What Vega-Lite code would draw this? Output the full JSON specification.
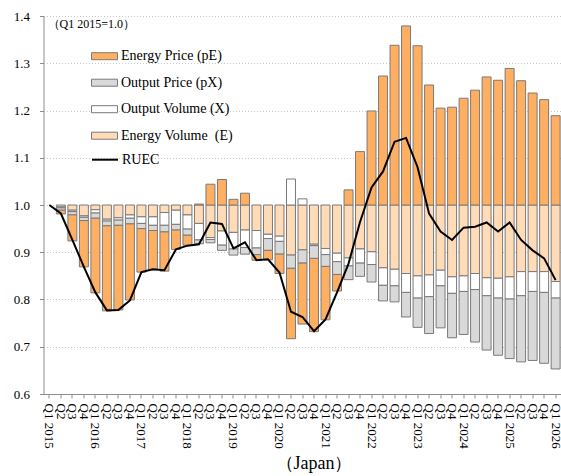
{
  "$schema": "https://vega.github.io/schema/vega-lite/v6.json",
  "width": 518,
  "height": 378,
  "autosize": {"type": "none"},
  "padding": {"left": 43.5, "top": 16, "right": 0, "bottom": 82},
  "background": "white",
  "config": {
    "font": "Liberation Serif",
    "view": {"stroke": null},
    "axis": {"labelFont": "Liberation Serif", "labelColor": "#000000", "titleFont": "Liberation Serif", "titleColor": "#000000", "titleFontWeight": "normal"},
    "legend": {"labelFont": "Liberation Serif", "labelColor": "#000000"}
  },
  "datasets": {
    "bars": [
      {"q":"Q2 2015","c":"4E","v":-0.004},{"q":"Q2 2015","c":"3X","v":-0.002},{"q":"Q2 2015","c":"2pX","v":-0.005},{"q":"Q2 2015","c":"1pE","v":-0.008},
      {"q":"Q3 2015","c":"4E","v":-0.011},{"q":"Q3 2015","c":"3X","v":-0.003},{"q":"Q3 2015","c":"2pX","v":-0.007},{"q":"Q3 2015","c":"1pE","v":-0.055},
      {"q":"Q4 2015","c":"4E","v":-0.023},{"q":"Q4 2015","c":"3X","v":-0.003},{"q":"Q4 2015","c":"2pX","v":-0.007},{"q":"Q4 2015","c":"1pE","v":-0.098},
      {"q":"Q1 2016","c":"4E","v":-0.010},{"q":"Q1 2016","c":"3X","v":-0.007},{"q":"Q1 2016","c":"2pX","v":-0.011},{"q":"Q1 2016","c":"1pE","v":-0.158},
      {"q":"Q2 2016","c":"4E","v":-0.030},{"q":"Q2 2016","c":"3X","v":-0.004},{"q":"Q2 2016","c":"2pX","v":-0.010},{"q":"Q2 2016","c":"1pE","v":-0.180},
      {"q":"Q3 2016","c":"4E","v":-0.027},{"q":"Q3 2016","c":"3X","v":-0.005},{"q":"Q3 2016","c":"2pX","v":-0.011},{"q":"Q3 2016","c":"1pE","v":-0.179},
      {"q":"Q4 2016","c":"4E","v":-0.021},{"q":"Q4 2016","c":"3X","v":-0.007},{"q":"Q4 2016","c":"2pX","v":-0.012},{"q":"Q4 2016","c":"1pE","v":-0.161},
      {"q":"Q1 2017","c":"4E","v":-0.025},{"q":"Q1 2017","c":"3X","v":-0.014},{"q":"Q1 2017","c":"2pX","v":-0.011},{"q":"Q1 2017","c":"1pE","v":-0.092},
      {"q":"Q2 2017","c":"4E","v":-0.025},{"q":"Q2 2017","c":"3X","v":-0.018},{"q":"Q2 2017","c":"2pX","v":-0.011},{"q":"Q2 2017","c":"1pE","v":-0.083},
      {"q":"Q3 2017","c":"4E","v":-0.016},{"q":"Q3 2017","c":"3X","v":-0.027},{"q":"Q3 2017","c":"2pX","v":-0.014},{"q":"Q3 2017","c":"1pE","v":-0.083},
      {"q":"Q4 2017","c":"4E","v":-0.011},{"q":"Q4 2017","c":"3X","v":-0.030},{"q":"Q4 2017","c":"2pX","v":-0.012},{"q":"Q4 2017","c":"1pE","v":-0.041},
      {"q":"Q1 2018","c":"4E","v":-0.021},{"q":"Q1 2018","c":"3X","v":-0.030},{"q":"Q1 2018","c":"2pX","v":-0.013},{"q":"Q1 2018","c":"1pE","v":-0.021},
      {"q":"Q2 2018","c":"4E","v":-0.039},{"q":"Q2 2018","c":"3X","v":-0.035},{"q":"Q2 2018","c":"2pX","v":-0.008},{"q":"Q2 2018","c":"1pE","v":0.002},
      {"q":"Q3 2018","c":"4E","v":-0.069},{"q":"Q3 2018","c":"3X","v":-0.004},{"q":"Q3 2018","c":"2pX","v":-0.007},{"q":"Q3 2018","c":"1pE","v":0.044},
      {"q":"Q4 2018","c":"4E","v":-0.055},{"q":"Q4 2018","c":"3X","v":-0.030},{"q":"Q4 2018","c":"2pX","v":-0.011},{"q":"Q4 2018","c":"1pE","v":0.054},
      {"q":"Q1 2019","c":"4E","v":-0.058},{"q":"Q1 2019","c":"3X","v":-0.035},{"q":"Q1 2019","c":"2pX","v":-0.013},{"q":"Q1 2019","c":"1pE","v":0.012},
      {"q":"Q2 2019","c":"4E","v":-0.053},{"q":"Q2 2019","c":"3X","v":-0.037},{"q":"Q2 2019","c":"2pX","v":-0.014},{"q":"Q2 2019","c":"1pE","v":0.025},
      {"q":"Q3 2019","c":"4E","v":-0.054},{"q":"Q3 2019","c":"3X","v":-0.037},{"q":"Q3 2019","c":"2pX","v":-0.014},{"q":"Q3 2019","c":"1pE","v":-0.012},
      {"q":"Q4 2019","c":"4E","v":-0.062},{"q":"Q4 2019","c":"3X","v":-0.009},{"q":"Q4 2019","c":"2pX","v":-0.025},{"q":"Q4 2019","c":"1pE","v":-0.020},
      {"q":"Q1 2020","c":"4E","v":-0.066},{"q":"Q1 2020","c":"3X","v":-0.011},{"q":"Q1 2020","c":"2pX","v":-0.027},{"q":"Q1 2020","c":"1pE","v":-0.041},
      {"q":"Q2 2020","c":"4E","v":-0.106},{"q":"Q2 2020","c":"3X","v":0.055},{"q":"Q2 2020","c":"2pX","v":-0.028},{"q":"Q2 2020","c":"1pE","v":-0.149},
      {"q":"Q3 2020","c":"4E","v":-0.095},{"q":"Q3 2020","c":"3X","v":0.013},{"q":"Q3 2020","c":"2pX","v":-0.028},{"q":"Q3 2020","c":"1pE","v":-0.129},
      {"q":"Q4 2020","c":"4E","v":-0.083},{"q":"Q4 2020","c":"3X","v":-0.003},{"q":"Q4 2020","c":"2pX","v":-0.027},{"q":"Q4 2020","c":"1pE","v":-0.155},
      {"q":"Q1 2021","c":"4E","v":-0.092},{"q":"Q1 2021","c":"3X","v":-0.013},{"q":"Q1 2021","c":"2pX","v":-0.025},{"q":"Q1 2021","c":"1pE","v":-0.113},
      {"q":"Q2 2021","c":"4E","v":-0.102},{"q":"Q2 2021","c":"3X","v":-0.018},{"q":"Q2 2021","c":"2pX","v":-0.027},{"q":"Q2 2021","c":"1pE","v":-0.035},
      {"q":"Q3 2021","c":"4E","v":-0.112},{"q":"Q3 2021","c":"3X","v":-0.017},{"q":"Q3 2021","c":"2pX","v":-0.029},{"q":"Q3 2021","c":"1pE","v":0.032},
      {"q":"Q4 2021","c":"4E","v":-0.093},{"q":"Q4 2021","c":"3X","v":-0.030},{"q":"Q4 2021","c":"2pX","v":-0.028},{"q":"Q4 2021","c":"1pE","v":0.113},
      {"q":"Q1 2022","c":"4E","v":-0.099},{"q":"Q1 2022","c":"3X","v":-0.027},{"q":"Q1 2022","c":"2pX","v":-0.037},{"q":"Q1 2022","c":"1pE","v":0.199},
      {"q":"Q2 2022","c":"4E","v":-0.133},{"q":"Q2 2022","c":"3X","v":-0.037},{"q":"Q2 2022","c":"2pX","v":-0.033},{"q":"Q2 2022","c":"1pE","v":0.273},
      {"q":"Q3 2022","c":"4E","v":-0.136},{"q":"Q3 2022","c":"3X","v":-0.035},{"q":"Q3 2022","c":"2pX","v":-0.034},{"q":"Q3 2022","c":"1pE","v":0.338},
      {"q":"Q4 2022","c":"4E","v":-0.145},{"q":"Q4 2022","c":"3X","v":-0.040},{"q":"Q4 2022","c":"2pX","v":-0.052},{"q":"Q4 2022","c":"1pE","v":0.379},
      {"q":"Q1 2023","c":"4E","v":-0.150},{"q":"Q1 2023","c":"3X","v":-0.047},{"q":"Q1 2023","c":"2pX","v":-0.062},{"q":"Q1 2023","c":"1pE","v":0.337},
      {"q":"Q2 2023","c":"4E","v":-0.148},{"q":"Q2 2023","c":"3X","v":-0.046},{"q":"Q2 2023","c":"2pX","v":-0.078},{"q":"Q2 2023","c":"1pE","v":0.254},
      {"q":"Q3 2023","c":"4E","v":-0.138},{"q":"Q3 2023","c":"3X","v":-0.033},{"q":"Q3 2023","c":"2pX","v":-0.089},{"q":"Q3 2023","c":"1pE","v":0.205},
      {"q":"Q4 2023","c":"4E","v":-0.152},{"q":"Q4 2023","c":"3X","v":-0.035},{"q":"Q4 2023","c":"2pX","v":-0.094},{"q":"Q4 2023","c":"1pE","v":0.207},
      {"q":"Q1 2024","c":"4E","v":-0.150},{"q":"Q1 2024","c":"3X","v":-0.033},{"q":"Q1 2024","c":"2pX","v":-0.091},{"q":"Q1 2024","c":"1pE","v":0.226},
      {"q":"Q2 2024","c":"4E","v":-0.145},{"q":"Q2 2024","c":"3X","v":-0.034},{"q":"Q2 2024","c":"2pX","v":-0.111},{"q":"Q2 2024","c":"1pE","v":0.243},
      {"q":"Q3 2024","c":"4E","v":-0.154},{"q":"Q3 2024","c":"3X","v":-0.038},{"q":"Q3 2024","c":"2pX","v":-0.115},{"q":"Q3 2024","c":"1pE","v":0.271},
      {"q":"Q4 2024","c":"4E","v":-0.155},{"q":"Q4 2024","c":"3X","v":-0.042},{"q":"Q4 2024","c":"2pX","v":-0.121},{"q":"Q4 2024","c":"1pE","v":0.264},
      {"q":"Q1 2025","c":"4E","v":-0.152},{"q":"Q1 2025","c":"3X","v":-0.047},{"q":"Q1 2025","c":"2pX","v":-0.126},{"q":"Q1 2025","c":"1pE","v":0.289},
      {"q":"Q2 2025","c":"4E","v":-0.141},{"q":"Q2 2025","c":"3X","v":-0.051},{"q":"Q2 2025","c":"2pX","v":-0.140},{"q":"Q2 2025","c":"1pE","v":0.263},
      {"q":"Q3 2025","c":"4E","v":-0.141},{"q":"Q3 2025","c":"3X","v":-0.042},{"q":"Q3 2025","c":"2pX","v":-0.146},{"q":"Q3 2025","c":"1pE","v":0.237},
      {"q":"Q4 2025","c":"4E","v":-0.141},{"q":"Q4 2025","c":"3X","v":-0.044},{"q":"Q4 2025","c":"2pX","v":-0.150},{"q":"Q4 2025","c":"1pE","v":0.223},
      {"q":"Q1 2026","c":"4E","v":-0.162},{"q":"Q1 2026","c":"3X","v":-0.035},{"q":"Q1 2026","c":"2pX","v":-0.150},{"q":"Q1 2026","c":"1pE","v":0.189}
    ],
    "ruec": [
      {"q":"Q1 2015","v":1.000},{"q":"Q2 2015","v":0.982},{"q":"Q3 2015","v":0.926},{"q":"Q4 2015","v":0.869},
      {"q":"Q1 2016","v":0.815},{"q":"Q2 2016","v":0.777},{"q":"Q3 2016","v":0.778},{"q":"Q4 2016","v":0.798},
      {"q":"Q1 2017","v":0.858},{"q":"Q2 2017","v":0.864},{"q":"Q3 2017","v":0.862},{"q":"Q4 2017","v":0.906},
      {"q":"Q1 2018","v":0.914},{"q":"Q2 2018","v":0.917},{"q":"Q3 2018","v":0.963},{"q":"Q4 2018","v":0.960},
      {"q":"Q1 2019","v":0.908},{"q":"Q2 2019","v":0.921},{"q":"Q3 2019","v":0.883},{"q":"Q4 2019","v":0.885},
      {"q":"Q1 2020","v":0.857},{"q":"Q2 2020","v":0.774},{"q":"Q3 2020","v":0.763},{"q":"Q4 2020","v":0.733},
      {"q":"Q1 2021","v":0.758},{"q":"Q2 2021","v":0.815},{"q":"Q3 2021","v":0.876},{"q":"Q4 2021","v":0.964},
      {"q":"Q1 2022","v":1.037},{"q":"Q2 2022","v":1.071},{"q":"Q3 2022","v":1.134},{"q":"Q4 2022","v":1.142},
      {"q":"Q1 2023","v":1.080},{"q":"Q2 2023","v":0.982},{"q":"Q3 2023","v":0.944},{"q":"Q4 2023","v":0.926},
      {"q":"Q1 2024","v":0.952},{"q":"Q2 2024","v":0.954},{"q":"Q3 2024","v":0.963},{"q":"Q4 2024","v":0.944},
      {"q":"Q1 2025","v":0.963},{"q":"Q2 2025","v":0.926},{"q":"Q3 2025","v":0.904},{"q":"Q4 2025","v":0.887},
      {"q":"Q1 2026","v":0.841}
    ]
  },
  "encoding": {
    "x": {
      "field": "q",
      "type": "nominal",
      "sort": ["Q1 2015","Q2 2015","Q3 2015","Q4 2015","Q1 2016","Q2 2016","Q3 2016","Q4 2016","Q1 2017","Q2 2017","Q3 2017","Q4 2017","Q1 2018","Q2 2018","Q3 2018","Q4 2018","Q1 2019","Q2 2019","Q3 2019","Q4 2019","Q1 2020","Q2 2020","Q3 2020","Q4 2020","Q1 2021","Q2 2021","Q3 2021","Q4 2021","Q1 2022","Q2 2022","Q3 2022","Q4 2022","Q1 2023","Q2 2023","Q3 2023","Q4 2023","Q1 2024","Q2 2024","Q3 2024","Q4 2024","Q1 2025","Q2 2025","Q3 2025","Q4 2025","Q1 2026"],
      "scale": {"paddingInner": 0.22, "paddingOuter": 0.12},
      "axis": {
        "title": "（Japan）",
        "titleFontSize": 18,
        "titlePadding": 6,
        "titleX": 270,
        "titleAlign": "center",
        "labelFont": "Liberation Serif",
        "labelExpr": "slice(datum.value, 0, 2) == 'Q1' ? datum.value : slice(datum.value, 0, 2)",
        "labelAngle": 90,
        "labelAlign": "left",
        "labelBaseline": "middle",
        "labelFontSize": 13,
        "labelPadding": 5,
        "labelOverlap": false,
        "tickSize": 4,
        "tickColor": "#8c8c8c",
        "domainColor": "#8c8c8c",
        "grid": false
      }
    }
  },
  "layer": [
    {
      "data": {"name": "bars"},
      "mark": {"type": "bar", "stroke": "#7a7a7a", "strokeWidth": 1},
      "encoding": {
        "y": {
          "field": "v",
          "type": "quantitative",
          "scale": {"domain": [-0.4, 0.4], "nice": false},
          "axis": null
        },
        "color": {
          "field": "c",
          "type": "nominal",
          "scale": {"domain": ["1pE", "2pX", "3X", "4E"], "range": ["#FFAF61", "#D9D9D9", "#FFFFFF", "#FFDBB7"]},
          "legend": {
            "orient": "none",
            "legendX": 47.5,
            "legendY": 26.7,
            "title": null,
            "padding": 0,
            "rowPadding": 5.5,
            "symbolType": "M-1,-0.27H1V0.27H-1Z",
            "symbolSize": 676,
            "symbolStrokeColor": "#7a7a7a",
            "symbolStrokeWidth": 1,
            "symbolOpacity": 1,
            "labelFontSize": 14,
            "labelOffset": 3,
            "labelExpr": "datum.label == '1pE' ? 'Energy Price (pE)' : datum.label == '2pX' ? 'Output Price (pX)' : datum.label == '3X' ? 'Output Volume (X)' : 'Energy Volume\u00a0 (E)'"
          }
        }
      }
    },
    {
      "data": {"name": "ruec"},
      "mark": {"type": "line", "strokeWidth": 2},
      "encoding": {
        "y": {
          "field": "v",
          "type": "quantitative",
          "scale": {"domain": [0.6, 1.4], "nice": false, "zero": false},
          "axis": {
            "orient": "left",
            "values": [0.6, 0.7, 0.8, 0.9, 1.0, 1.1, 1.2, 1.3, 1.4],
            "format": ".1f",
            "labelFont": "Liberation Serif",
            "labelFontSize": 13,
            "labelPadding": 10,
            "tickSize": 4,
            "tickColor": "#8c8c8c",
            "domainColor": "#8c8c8c",
            "grid": true,
            "gridColor": "#c8c8c8",
            "gridDash": [1, 2],
            "gridWidth": 1,
            "title": "（Q1 2015=1.0）",
            "titleFontSize": 12,
            "titleAngle": 0,
            "titleAlign": "left",
            "titleBaseline": "middle",
            "titleX": 3.5,
            "titleY": 7.7
          }
        },
        "stroke": {
          "datum": "RUEC",
          "scale": {"range": ["#000000"]},
          "legend": {
            "orient": "none",
            "legendX": 47.5,
            "legendY": 129.7,
            "title": null,
            "padding": 0,
            "symbolType": "stroke",
            "symbolSize": 676,
            "symbolStrokeWidth": 2,
            "labelFontSize": 14,
            "labelOffset": 3
          }
        }
      }
    }
  ],
  "resolve": {"scale": {"y": "independent"}}
}
